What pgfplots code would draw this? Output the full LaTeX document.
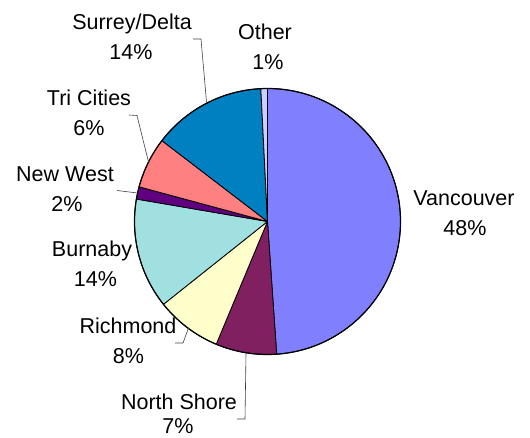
\documentclass[border=0pt]{standalone}
\usepackage{pgfplots}
\pgfplotsset{compat=1.18}
\usepackage{fontspec}
\setmainfont{Liberation Sans}
\definecolor{cVan}{HTML}{8080FF}
\definecolor{cNS}{HTML}{802060}
\definecolor{cRich}{HTML}{FFFFCC}
\definecolor{cBur}{HTML}{A0E0E0}
\definecolor{cNW}{HTML}{600080}
\definecolor{cTri}{HTML}{FF8080}
\definecolor{cSur}{HTML}{0080C0}
\definecolor{cOth}{HTML}{CCCCFF}
\tikzset{lbl/.style={font=\fontsize{21.5}{30}\selectfont, inner sep=0pt, anchor=base}}
\begin{document}
\begin{tikzpicture}[x=1pt,y=1pt]
\path[use as bounding box] (0,0) rectangle (530,438);
\clip (0,0) rectangle (530,438);
\begin{axis}[at={(0pt,0pt)}, anchor=south west,
  width=530pt, height=438pt, scale only axis,
  xmin=0, xmax=530, ymin=0, ymax=438,
  hide axis, clip=false]
% slices, clockwise from 12 o'clock: Vancouver, North Shore, Richmond, Burnaby, New West, Tri Cities, Surrey/Delta, Other
\foreach \v/\c [evaluate=\v as \e using {\s-3.6*\v}, remember=\e as \s (initially 90)] in
  {48.9/cVan, 7.4/cNS, 8.0/cRich, 13.4/cBur, 1.5/cNW, 6.2/cTri, 13.8/cSur, 0.8/cOth}
{
  \edef\temp{\noexpand\filldraw[fill=\c, draw=black, line width=0.8pt, line join=round]
    (axis cs:267.5,216.5) -- ++(\s:133pt) arc[start angle=\s, end angle=\e, radius=133pt] -- cycle;}
  \temp
}
\draw[line width=1.2pt] (axis cs:267.5,216.5) circle[radius=133pt];
% leader lines
\draw[black!75, line width=0.6pt] (axis cs:193,399) -- (axis cs:201,399) -- (axis cs:206.5,336);
\draw[black!75, line width=0.6pt] (axis cs:129,323) -- (axis cs:137,322.5) -- (axis cs:148.5,276);
\draw[black!75, line width=0.6pt] (axis cs:117,247.5) -- (axis cs:137.5,245);
\draw[black!75, line width=0.6pt] (axis cs:175,95) -- (axis cs:183,95) -- (axis cs:188.5,110);
\draw[black!75, line width=0.6pt] (axis cs:237,19) -- (axis cs:245,19) -- (axis cs:246,85);
% labels
\node[lbl] at (axis cs:132,408) {Surrey/Delta};
\node[lbl] at (axis cs:131,378) {14\%};
\node[lbl] at (axis cs:265,398) {Other};
\node[lbl] at (axis cs:268,368) {1\%};
\node[lbl] at (axis cs:89,332) {Tri Cities};
\node[lbl] at (axis cs:89,302.3) {6\%};
\node[lbl] at (axis cs:65,256.3) {New West};
\node[lbl] at (axis cs:67,226.3) {2\%};
\node[lbl] at (axis cs:92,181.3) {Burnaby};
\node[lbl] at (axis cs:95.5,151) {14\%};
\node[lbl] at (axis cs:128,104) {Richmond};
\node[lbl] at (axis cs:128.5,74) {8\%};
\node[lbl] at (axis cs:179,28) {North Shore};
\node[lbl] at (axis cs:178,4) {7\%};
\node[lbl] at (axis cs:464,232) {Vancouver};
\node[lbl] at (axis cs:465,202) {48\%};
\end{axis}
\end{tikzpicture}
\end{document}
